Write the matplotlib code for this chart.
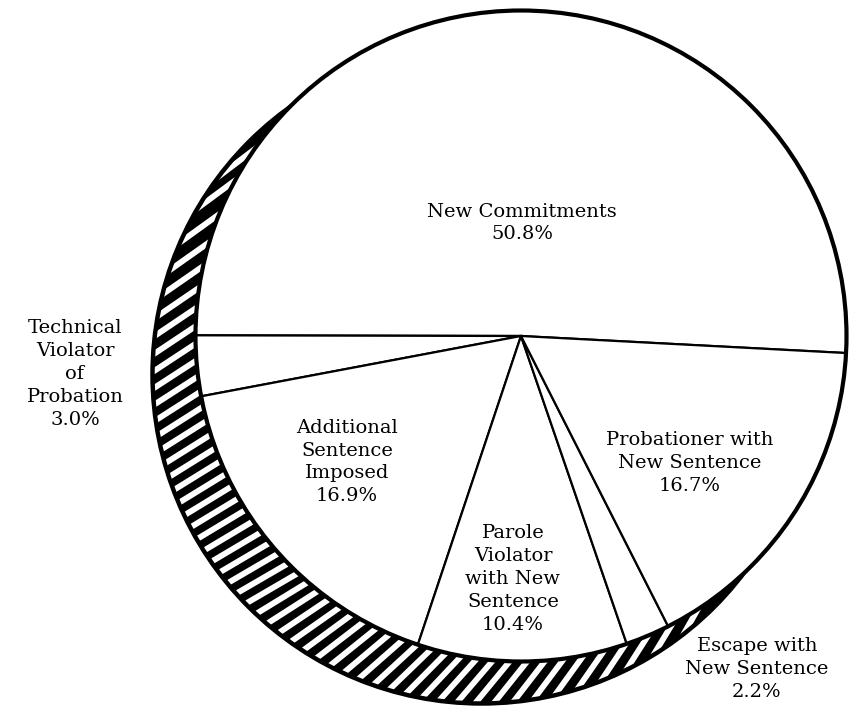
import numpy as np
import matplotlib
matplotlib.use("Agg")
import matplotlib.pyplot as plt
from matplotlib.patches import PathPatch, Circle
from matplotlib.path import Path
from matplotlib.collections import LineCollection

# Data
categories = ["New Commitments", "Technical\nViolator\nof\nProbation",
              "Additional\nSentence\nImposed", "Parole\nViolator\nwith New\nSentence",
              "Escape with\nNew Sentence", "Probationer with\nNew Sentence"]
shares = [50.8, 3.0, 16.9, 10.4, 2.2, 16.7]
pct_labels = ["50.8%", "3.0%", "16.9%", "10.4%", "2.2%", "16.7%"]

# label centres in pixel coords (x, y from top)
label_pos = [(522, 223), (75, 374), (347, 462), (513, 579), (757, 669), (690, 463)]

W, H = 849, 707
fig = plt.figure(figsize=(W / 100, H / 100), dpi=100)
ax = fig.add_axes([0, 0, 1, 1])

# pie circle and the offset "shadow" rim circle (lower left)
pie_c = np.array([521, H - 336])
pie_r = 325.5
rim_c = np.array([481.5, H - 374.5])
rim_r = 329

# crescent = rim circle minus pie circle (pie wedges cover the rest)
t = np.linspace(0, 2 * np.pi, 600)
outer = np.column_stack([rim_c[0] + rim_r * np.cos(t), rim_c[1] + rim_r * np.sin(t)])
inner = np.column_stack([pie_c[0] + pie_r * np.cos(t[::-1]), pie_c[1] + pie_r * np.sin(t[::-1])])
verts = np.vstack([outer, inner])
codes = np.full(len(verts), Path.LINETO)
codes[0] = Path.MOVETO
codes[len(outer)] = Path.MOVETO
crescent = PathPatch(Path(verts, codes), facecolor='black', edgecolor='none', zorder=1)
ax.add_patch(crescent)

# white stripes across the crescent; slant drifts a little round the rim
q = rim_c - pie_c
segs = []
ph = 125.0
while ph < 335:
    e = np.array([np.cos(np.deg2rad(ph)), np.sin(np.deg2rad(ph))])
    qe = q @ e
    disc = qe ** 2 - q @ q + pie_r ** 2
    s_in = -qe + np.sqrt(disc)
    slant = np.interp(ph, [130, 180, 225, 270, 325], [38, 33, 30, 50, 64])
    sinb = max(abs(np.sin(np.deg2rad(slant - ph - 90))), 0.35)
    mid = (rim_r + s_in) / 2
    if rim_r - s_in > 9:
        p = rim_c + mid * e
        d = 70 * np.array([np.cos(np.deg2rad(slant)), np.sin(np.deg2rad(slant))])
        segs.append([p - d, p + d])
    ph += np.rad2deg(13.5 / sinb / mid)
stripes = LineCollection(segs, colors='white', linewidths=4.2, capstyle='round', zorder=1.2)
stripes.set_clip_path(crescent)
ax.add_collection(stripes)

wedges, _ = ax.pie(shares, startangle=-3, counterclock=True, radius=pie_r, center=tuple(pie_c),
                   wedgeprops=dict(facecolor='white', edgecolor='black', linewidth=1.6))
for w in wedges:
    w.set_zorder(2)

ax.add_patch(Circle(pie_c, pie_r, facecolor='none', edgecolor='black', linewidth=3.0, zorder=3))
ax.add_patch(Circle(rim_c, rim_r, facecolor='none', edgecolor='black', linewidth=3.2, zorder=1.5))

for cat, pct, (x, y) in zip(categories, pct_labels, label_pos):
    ax.text(x, H - y, cat + "\n" + pct, ha='center', va='center', multialignment='center',
            fontsize=14, family='DejaVu Serif', linespacing=1.35, zorder=4)

ax.set_xlim(0, W)
ax.set_ylim(0, H)
ax.set_aspect('equal')
ax.axis('off')

fig.savefig("out.png", dpi=100, facecolor='white')
